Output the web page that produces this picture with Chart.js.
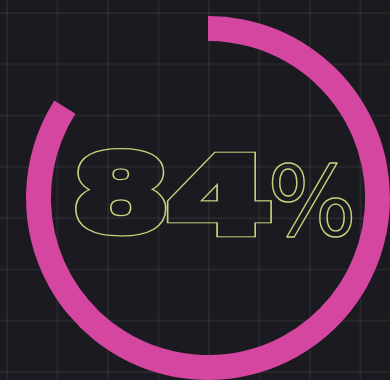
<!DOCTYPE html>
<html>
<head>
<meta charset="utf-8">
<script src="https://cdn.jsdelivr.net/npm/chart.js@4"></script>
<style>
  html, body { margin: 0; padding: 0; }
  body {
    width: 390px; height: 380px; overflow: hidden;
    background-color: #1b1a20;
    background-image:
      linear-gradient(to right, rgba(255,255,255,0.05) 1.5px, transparent 1.5px),
      linear-gradient(to bottom, rgba(255,255,255,0.05) 1.5px, transparent 1.5px);
    background-size: 50.5px 51.3px;
    background-position: 6px 12px;
  }
  #wrap { position: relative; width: 390px; height: 380px; }
</style>
</head>
<body>
<div id="wrap"><canvas id="c"></canvas></div>
<script>
const categories = ['Done', 'Remaining'];
const values = [84, 16];
const percentLabel = values[0] + '%';

const textPlugin = {
  id: 'centerText',
  afterDraw(chart) {
    const ctx = chart.ctx;
    const meta = chart.getDatasetMeta(0).data[0];
    const cx = meta.x, cy = meta.y;
    const chars = percentLabel.split('');
    // ink boxes relative to center; d = emboldening amount
    const boxes = [
      { l: -132, r: -42, t: -50, b: 39, d: 4.5, join: 'round', font: 'bold 120px "DejaVu Sans"' },
      { l: -40, r: 62, t: -47, b: 39, d: 4.5, join: 'miter', font: 'bold 120px "DejaVu Sans"' },
      { l: 64, r: 144, t: -35, b: 39, d: 0, join: 'round', font: 'normal 100px "DejaVu Sans"' }
    ];
    const W = chart.width, H = chart.height;
    const color = '#c8d27a';
    const lw = 1.4;
    chars.forEach((ch, i) => {
      const bx = boxes[i] || boxes[boxes.length - 1];
      const off = document.createElement('canvas');
      off.width = W; off.height = H;
      const o = off.getContext('2d');
      o.font = bx.font;
      o.textAlign = 'left';
      o.textBaseline = 'alphabetic';
      o.lineJoin = bx.join;
      o.miterLimit = 2.2;
      const m = o.measureText(ch);
      const inkW = m.actualBoundingBoxLeft + m.actualBoundingBoxRight;
      const inkH = m.actualBoundingBoxAscent + m.actualBoundingBoxDescent;
      const d = bx.d;
      const sx = (bx.r - bx.l - 2 * d) / inkW;
      const sy = (bx.b - bx.t - 2 * d) / inkH;
      const s = Math.sqrt(sx * sy);
      o.translate(cx + bx.l + d, cy + bx.t + d);
      o.scale(sx, sy);
      const x0 = m.actualBoundingBoxLeft, y0 = m.actualBoundingBoxAscent;
      o.fillStyle = '#fff';
      o.strokeStyle = '#fff';
      if (d > 0) {
        o.lineWidth = (2 * d + lw) / s;
        o.fillText(ch, x0, y0);
        o.strokeText(ch, x0, y0);
        o.globalCompositeOperation = 'destination-out';
        o.lineWidth = Math.max(0.01, (2 * d - lw)) / s;
        o.fillText(ch, x0, y0);
        o.strokeText(ch, x0, y0);
      } else {
        o.lineWidth = lw / s;
        o.strokeText(ch, x0, y0);
      }
      o.setTransform(1, 0, 0, 1, 0, 0);
      o.globalCompositeOperation = 'source-in';
      o.fillStyle = color;
      o.fillRect(0, 0, W, H);
      ctx.save();
      ctx.setTransform(1, 0, 0, 1, 0, 0);
      ctx.drawImage(off, 0, 0);
      ctx.restore();
    });
  }
};

new Chart(document.getElementById('c'), {
  type: 'doughnut',
  data: {
    labels: categories,
    datasets: [{
      data: values,
      backgroundColor: ['#d4469f', 'rgba(0,0,0,0)'],
      borderWidth: 0
    }]
  },
  options: {
    responsive: true,
    maintainAspectRatio: false,
    animation: false,
    cutout: '86.3%',
    rotation: 0,
    layout: { padding: { left: 26, top: 16, right: 0, bottom: 0 } },
    plugins: { legend: { display: false }, tooltip: { enabled: false } }
  },
  plugins: [textPlugin]
});
</script>
</body>
</html>
